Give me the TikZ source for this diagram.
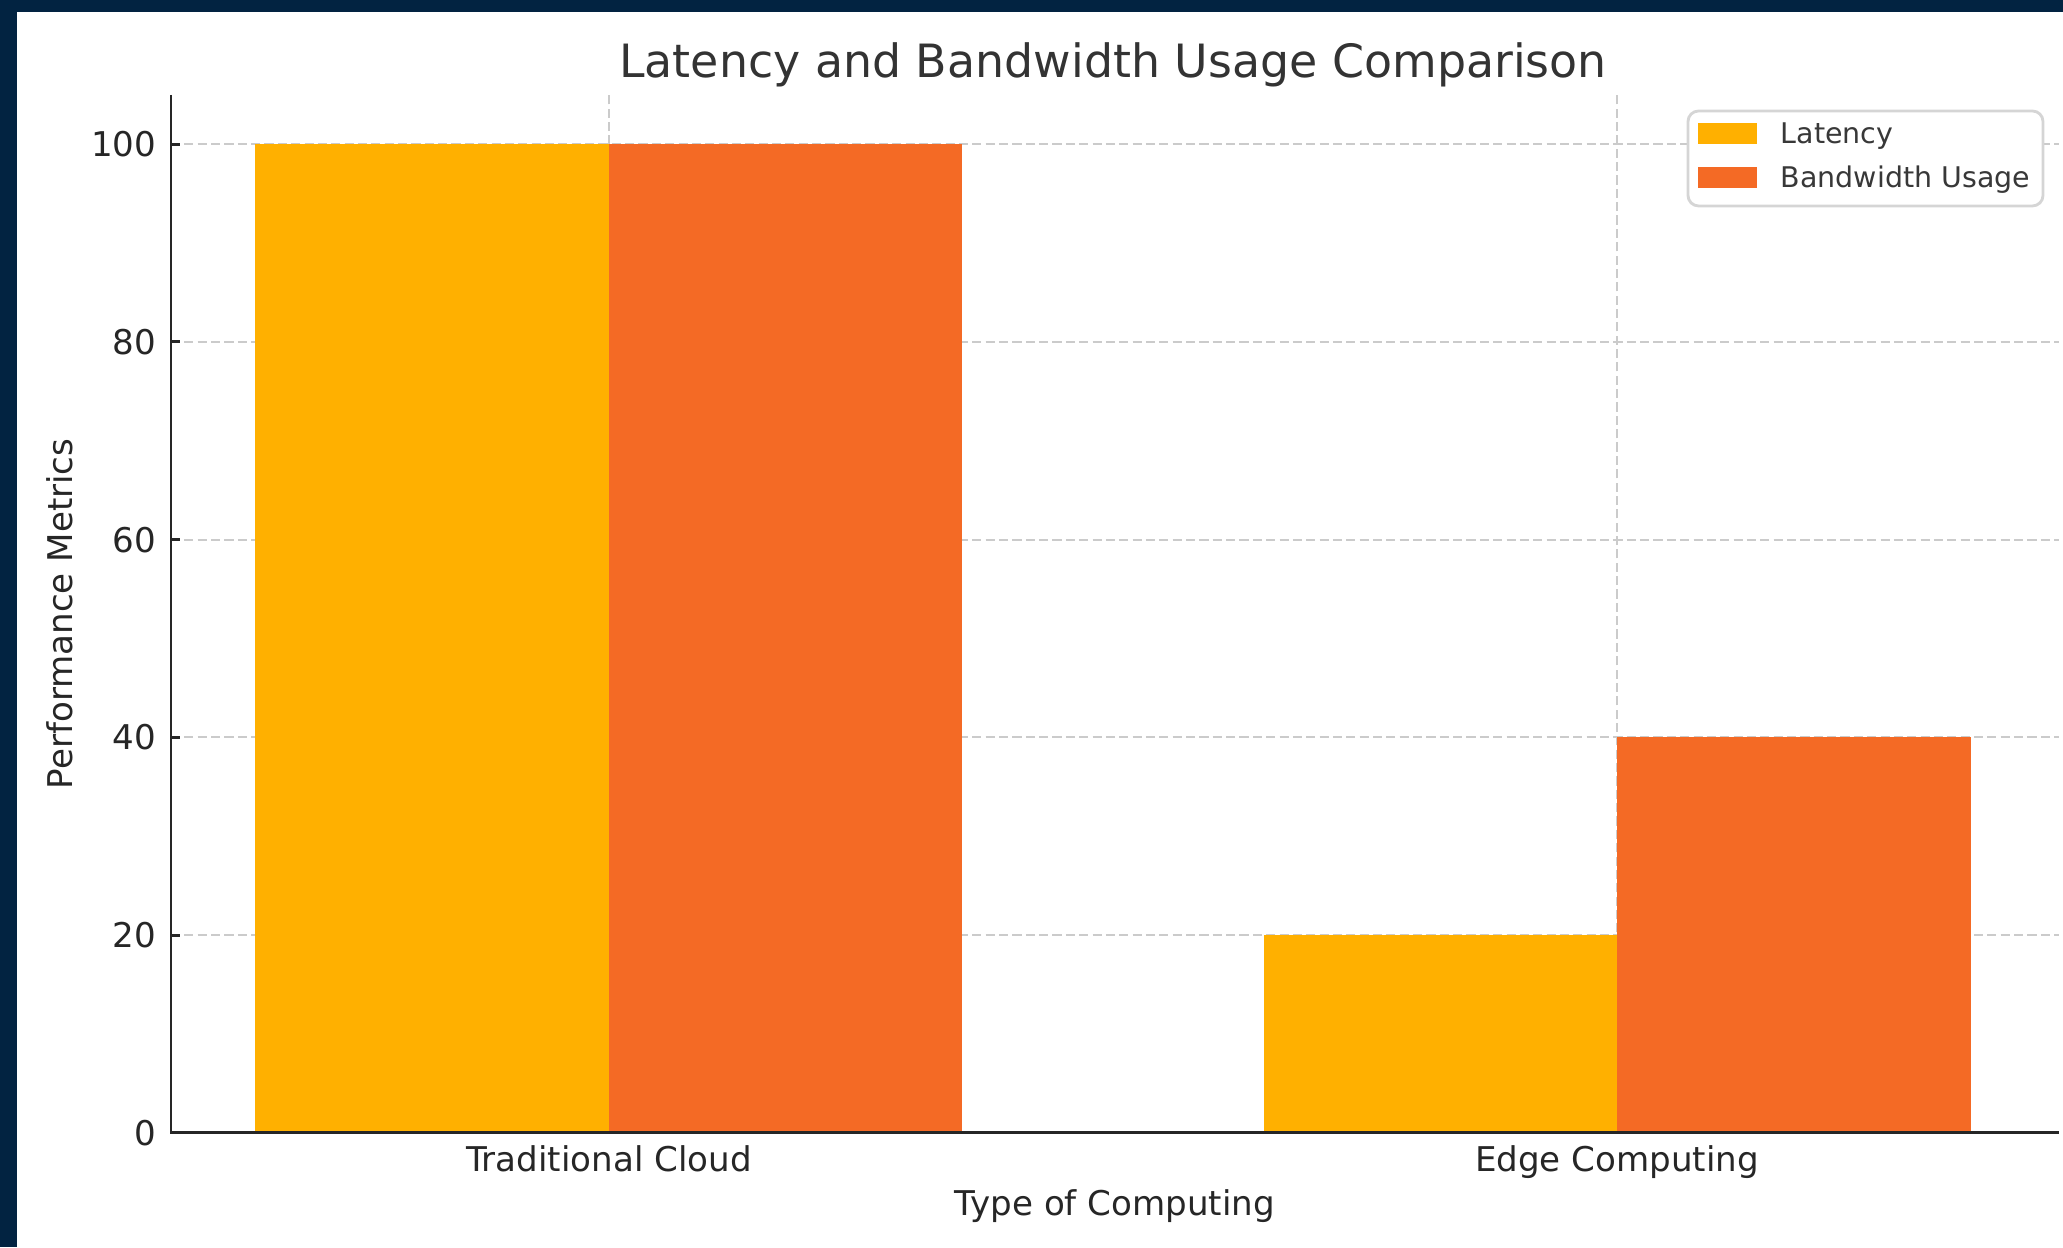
\documentclass[tikz,border=0pt]{standalone}
\usepackage{fontspec}
\setmainfont{DejaVu Sans}
\definecolor{latency}{HTML}{FFB000}
\definecolor{bandwidth}{HTML}{F46A25}
\definecolor{frame}{HTML}{022341}
\definecolor{gridgray}{HTML}{CBCBCB}
\definecolor{textgray}{HTML}{262626}
\begin{document}
\begin{tikzpicture}[x=1cm, y=0.09884cm,
  tick label/.style={font=\fontsize{9.7}{11}\selectfont, text=textgray, inner sep=0pt},
  grid line/.style={gridgray, line width=0.6pt, dash pattern=on 2.6pt off 1.2pt},
  legend text/.style={font=\fontsize{8.1}{10}\selectfont, text=black!78, inner sep=0pt, anchor=base west}]
\useasboundingbox (-1.71,-11.564) rectangle (18.92,114.60);
\fill[white] (-1.71,-11.564) rectangle (18.92,114.60);
\fill[frame] (-1.71,113.39) rectangle (18.92,114.60);
\fill[frame] (-1.71,-11.564) rectangle (-1.54,114.60);

\foreach \v in {20,40,...,100}
  \draw[grid line] (0,\v) -- (18.88,\v);
\draw[grid line] (4.38,0) -- (4.38,105);
\draw[grid line] (14.46,0) -- (14.46,105);

\fill[latency] (0.84,0) rectangle (4.38,100);
\fill[bandwidth] (4.38,0) rectangle (7.91,100);
\fill[latency] (10.93,0) rectangle (14.46,20);
\fill[bandwidth] (14.46,0) rectangle (18.00,40);

\draw[textgray, line width=0.85pt] (0,105) -- (0,0) -- (18.88,0);
\foreach \v in {0,20,...,100} {
  \draw[textgray, line width=0.85pt] (0,\v) -- (0.09,\v);
  \node[tick label, anchor=east] (y\v) at (-0.14,\v) {\v};
}

\node[tick label, anchor=base] (cloud) at (4.38,-3.875) {Traditional Cloud};
\node[tick label, anchor=base] (edge) at (14.46,-3.875) {Edge Computing};
\node[tick label, anchor=base] (xlabel) at (9.44,-8.33) {Type of Computing};
\node[tick label, rotate=90, anchor=base] (ylabel) at (-0.98,52.5) {Performance Metrics};
\node[font=\fontsize{13.05}{15}\selectfont, text=black!80, inner sep=0pt, anchor=base] (title) at (9.42,106.71) {Latency and Bandwidth Usage Comparison};

\draw[gridgray!80, line width=0.8pt, rounded corners=3pt, fill=white] (15.17,93.76) rectangle (18.72,103.37);
\fill[latency] (15.27,100.04) rectangle (15.86,102.16);
\fill[bandwidth] (15.27,95.59) rectangle (15.86,97.71);
\node[legend text] (latlabel) at (16.09,100.04) {Latency};
\node[legend text] (bwlabel) at (16.09,95.65) {Bandwidth Usage};
\end{tikzpicture}
\end{document}
